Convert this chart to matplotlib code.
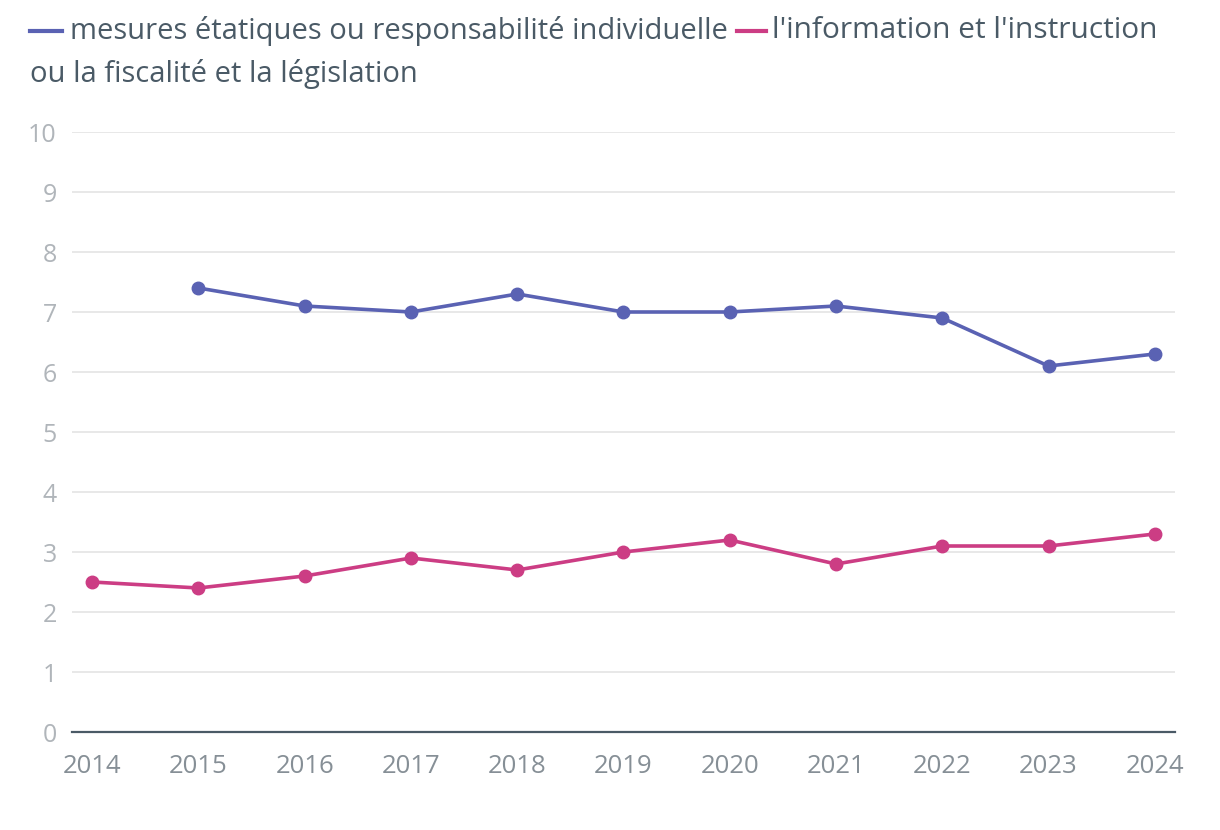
import matplotlib
matplotlib.use("Agg")
import matplotlib.pyplot as plt
from matplotlib.lines import Line2D

plt.rcParams['font.family'] = ['Open Sans', 'DejaVu Sans']

years = [2014, 2015, 2016, 2017, 2018, 2019, 2020, 2021, 2022, 2023, 2024]
years_mesures = years[1:]
mesures = [7.4, 7.1, 7.0, 7.3, 7.0, 7.0, 7.1, 6.9, 6.1, 6.3]
information = [2.5, 2.4, 2.6, 2.9, 2.7, 3.0, 3.2, 2.8, 3.1, 3.1, 3.3]
label_mesures = "mesures étatiques ou responsabilité individuelle"
label_info = "l'information et l'instruction"
label_info2 = "ou la fiscalité et la législation"

blue = "#5a62b3"
pink = "#cc3d84"
dark = "#4a5a66"

W, H = 1220, 830
fig = plt.figure(figsize=(W / 100, H / 100), dpi=100)
ax = fig.add_axes([72 / W, 1 - 732 / H, (1175 - 72) / W, 600 / H])

ax.plot(years_mesures, mesures, color=blue, lw=2.6, marker="o", ms=9, zorder=3)
ax.plot(years, information, color=pink, lw=2.6, marker="o", ms=9, zorder=3)

ax.set_xlim(2014 - 0.19, 2024 + 0.19)
ax.set_ylim(0, 10)
ax.set_yticks(range(0, 11))
ax.set_xticks(years)
ax.grid(axis="y", color="#e6e6e6", lw=1.3)
ax.set_axisbelow(True)
for s in ["top", "right", "left"]:
    ax.spines[s].set_visible(False)
ax.spines["bottom"].set_color(dark)
ax.spines["bottom"].set_linewidth(1.6)
ax.spines["bottom"].set_zorder(4)
ax.tick_params(axis="y", length=0, pad=11, labelsize=18, labelcolor="#b0b5ba")
ax.tick_params(axis="x", length=0, pad=16, labelsize=18.5, labelcolor="#868f96")
for lab in ax.get_yticklabels():
    lab.set_horizontalalignment("right")

# legend drawn by hand to match the wrapped layout
fig.add_artist(Line2D([30 / W, 62 / W], [1 - 31 / H] * 2, color=blue, lw=3))
fig.text(70 / W, 1 - 31 / H, label_mesures, color=dark, fontsize=21, va="center")
fig.add_artist(Line2D([737 / W, 766 / W], [1 - 31 / H] * 2, color=pink, lw=3))
fig.text(772 / W, 1 - 31 / H, label_info, color=dark, fontsize=21.5, va="center")
fig.text(30 / W, 1 - 74 / H, label_info2, color=dark, fontsize=21, va="center")

fig.savefig("out.png", dpi=100)
